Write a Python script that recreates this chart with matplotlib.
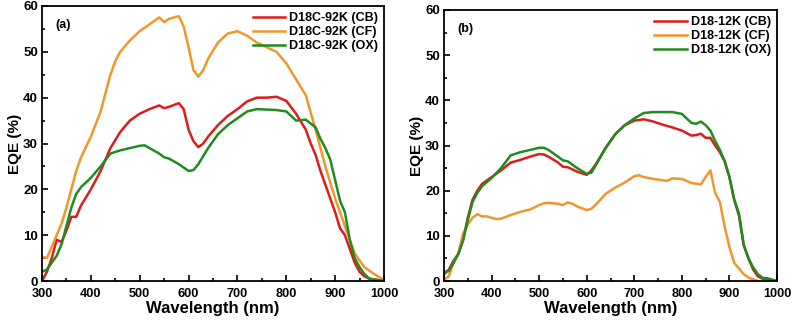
import matplotlib
matplotlib.use("Agg")
import matplotlib.pyplot as plt
from matplotlib.ticker import MultipleLocator

plt.rcParams['font.family'] = ['Liberation Sans', 'DejaVu Sans']
plt.rcParams['font.weight'] = 'bold'

# panel (a): D18C-92K
wl_a_cb = [300, 310, 320, 330, 340, 350, 360, 370, 380, 400, 420, 440, 460, 480, 500, 520, 540, 550, 560, 580, 590,
           600, 610, 620, 630, 640, 660, 680, 700, 720, 740, 760, 780, 800, 820, 840, 850, 860, 870, 880, 900, 910,
           920, 930, 940, 950, 960, 970, 1000]
eqe_a_cb = [0, 2, 5, 9, 8.5, 11, 14, 14, 16.5, 20, 24, 29, 32.5, 35, 36.5, 37.5, 38.3, 37.7, 38, 38.8, 37.5,
            33, 30.5, 29.2, 30, 31.5, 34, 36, 37.5, 39.2, 40, 40, 40.2, 39.3, 36.5, 33, 30, 27.5, 24, 21, 15, 11.5,
            10, 7, 4, 2, 1, 0.5, 0]
wl_a_cf = [300, 310, 320, 330, 340, 350, 360, 370, 380, 400, 420, 440, 450, 460, 480, 500, 520, 540, 550, 560, 580,
           590, 600, 610, 620, 630, 640, 660, 680, 700, 720, 740, 760, 780, 800, 820, 840, 860, 880, 900, 920, 940,
           960, 980, 1000]
eqe_a_cf = [5.3, 5, 7.5, 10, 12.5, 16, 20, 24, 27, 31.5, 37, 45, 48, 50, 52.5, 54.5, 56, 57.5, 56.5, 57.2, 57.8,
            55.5, 51, 46, 44.6, 46, 48.5, 52, 54, 54.5, 53.5, 52, 51, 50, 47.5, 44, 40.5, 33, 25, 18, 12, 6,
            3, 1.5, 0.2]
wl_a_ox = [300, 310, 320, 330, 340, 350, 360, 370, 380, 400, 420, 440, 460, 480, 500, 510, 520, 540, 550, 560, 580,
           600, 610, 620, 640, 660, 680, 700, 720, 740, 760, 780, 800, 820, 840, 860, 870, 880, 890, 900, 910, 920,
           930, 940, 950, 960, 970, 1000]
eqe_a_ox = [2, 2.5, 4, 5.5, 8, 12, 16, 19, 20.5, 22.5, 25, 27.8, 28.5, 29, 29.5, 29.6, 29, 27.8, 27, 26.7, 25.5,
            24, 24.2, 25.5, 29, 32, 34, 35.5, 37, 37.5, 37.4, 37.3, 37, 35, 35.2, 33.5, 31, 29, 26.5, 22, 17.5, 15,
            9, 5, 3, 1.5, 0.5, 0]

# panel (b): D18-12K
wl_b = [300, 310, 320, 330, 340, 350, 360, 370, 380, 400, 420, 440, 460, 480, 500, 510, 520, 540, 550, 560, 580,
        600, 610, 620, 640, 660, 680, 700, 720, 740, 760, 780, 800, 820, 830, 840, 850, 860, 870, 880, 890, 900,
        910, 920, 930, 940, 950, 960, 970, 980, 990, 1000]
eqe_b_cb = [1.5, 2.5, 4.5, 6, 9, 14, 18, 20, 21.5, 23, 24.5, 26.2, 26.8, 27.5, 28.1, 28, 27.5, 26.2, 25.3, 25.2, 24.2,
            23.5, 24.5, 26, 29.5, 32.5, 34.5, 35.5, 35.8, 35.3, 34.6, 34, 33.3, 32.2, 32.3, 32.6, 31.7, 31.7, 30, 28.5,
            26.5, 23, 18, 14.5, 8, 5, 2.5, 1, 0.5, 0.3, 0.1, 0]
eqe_b_ox = [2, 2.2, 4, 6, 9, 13.5, 17.5, 19.5, 21, 22.8, 25, 27.8, 28.5, 29, 29.5, 29.5, 29, 27.5, 26.7, 26.5, 25,
            23.7, 24, 25.8, 29.5, 32.5, 34.5, 36, 37.2, 37.4, 37.4, 37.4, 37, 35, 34.8, 35.3, 34.5, 33.3, 31, 29,
            26.5, 23, 18, 15, 8, 5, 3, 1.5, 0.7, 0.6, 0.3, 0]
wl_b_cf = [300, 310, 320, 330, 340, 345, 350, 360, 370, 380, 390, 400, 410, 420, 440, 460, 480, 500, 510, 520, 540,
           550, 560, 570, 580, 600, 610, 620, 640, 660, 680, 700, 710, 720, 740, 760, 770, 780, 800, 820, 840, 850,
           860, 870, 880, 890, 900, 910, 920, 930, 940, 950, 960]
eqe_b_cf = [0.3, 1, 4, 6, 10.5, 11.5, 12.5, 14, 14.8, 14.3, 14.3, 14, 13.7, 13.8, 14.6, 15.3, 15.8, 16.8, 17.2, 17.3,
            17.1, 16.8, 17.4, 17.1, 16.5, 15.7, 16, 17, 19.3, 20.7, 21.8, 23.2, 23.4, 23, 22.6, 22.3, 22.2, 22.7, 22.6,
            21.7, 21.4, 23, 24.5, 19.5, 17.5, 12, 7.5, 4, 2.8, 1.5, 0.8, 0.3, 0]

red = '#dd1c1c'
orange = '#f0962a'
green = '#1f8c1f'

fig = plt.figure(figsize=(7.93, 3.29), dpi=100)
ax1 = fig.add_axes([42/793, 48/329, 342/793, 275/329])
ax2 = fig.add_axes([444/793, 48/329, 333/793, 271/329])

ax1.plot(wl_a_cb, eqe_a_cb, color=red, lw=1.8, label='D18C-92K (CB)')
ax1.plot(wl_a_cf, eqe_a_cf, color=orange, lw=1.8, label='D18C-92K (CF)')
ax1.plot(wl_a_ox, eqe_a_ox, color=green, lw=1.8, label='D18C-92K (OX)')

ax2.plot(wl_b, eqe_b_cb, color=red, lw=1.8, label='D18-12K (CB)')
ax2.plot(wl_b_cf, eqe_b_cf, color=orange, lw=1.8, label='D18-12K (CF)')
ax2.plot(wl_b, eqe_b_ox, color=green, lw=1.8, label='D18-12K (OX)')

for ax, tag in [(ax1, '(a)'), (ax2, '(b)')]:
    ax.set_xlim(300, 1000)
    ax.set_ylim(0, 60)
    ax.xaxis.set_major_locator(MultipleLocator(100))
    ax.xaxis.set_minor_locator(MultipleLocator(50))
    ax.yaxis.set_major_locator(MultipleLocator(10))
    ax.yaxis.set_minor_locator(MultipleLocator(5))
    ax.tick_params(which='both', direction='in', width=1.2, labelsize=9.5)
    ax.tick_params(axis='x', pad=5, labelsize=9.2)
    ax.tick_params(axis='y', pad=3)
    ax.tick_params(which='major', length=4)
    ax.tick_params(which='minor', length=2)
    for lbl in ax.get_xticklabels() + ax.get_yticklabels():
        lbl.set_fontweight('bold')
    for sp in ax.spines.values():
        sp.set_linewidth(1.3)
    ax.set_xlabel('Wavelength (nm)', fontsize=12, fontweight='bold', labelpad=1)
    ax.set_ylabel('EQE (%)', fontsize=11, fontweight='bold', labelpad=1)
    ax.text(0.04, 0.93, tag, transform=ax.transAxes, fontsize=9, fontweight='bold', va='center')
    ax.legend(loc='upper right', frameon=False, handlelength=2.6, labelspacing=0.15,
              borderaxespad=0.1, handletextpad=0.3, prop={'weight': 'bold', 'size': 9})

fig.savefig('out.png', dpi=100)
